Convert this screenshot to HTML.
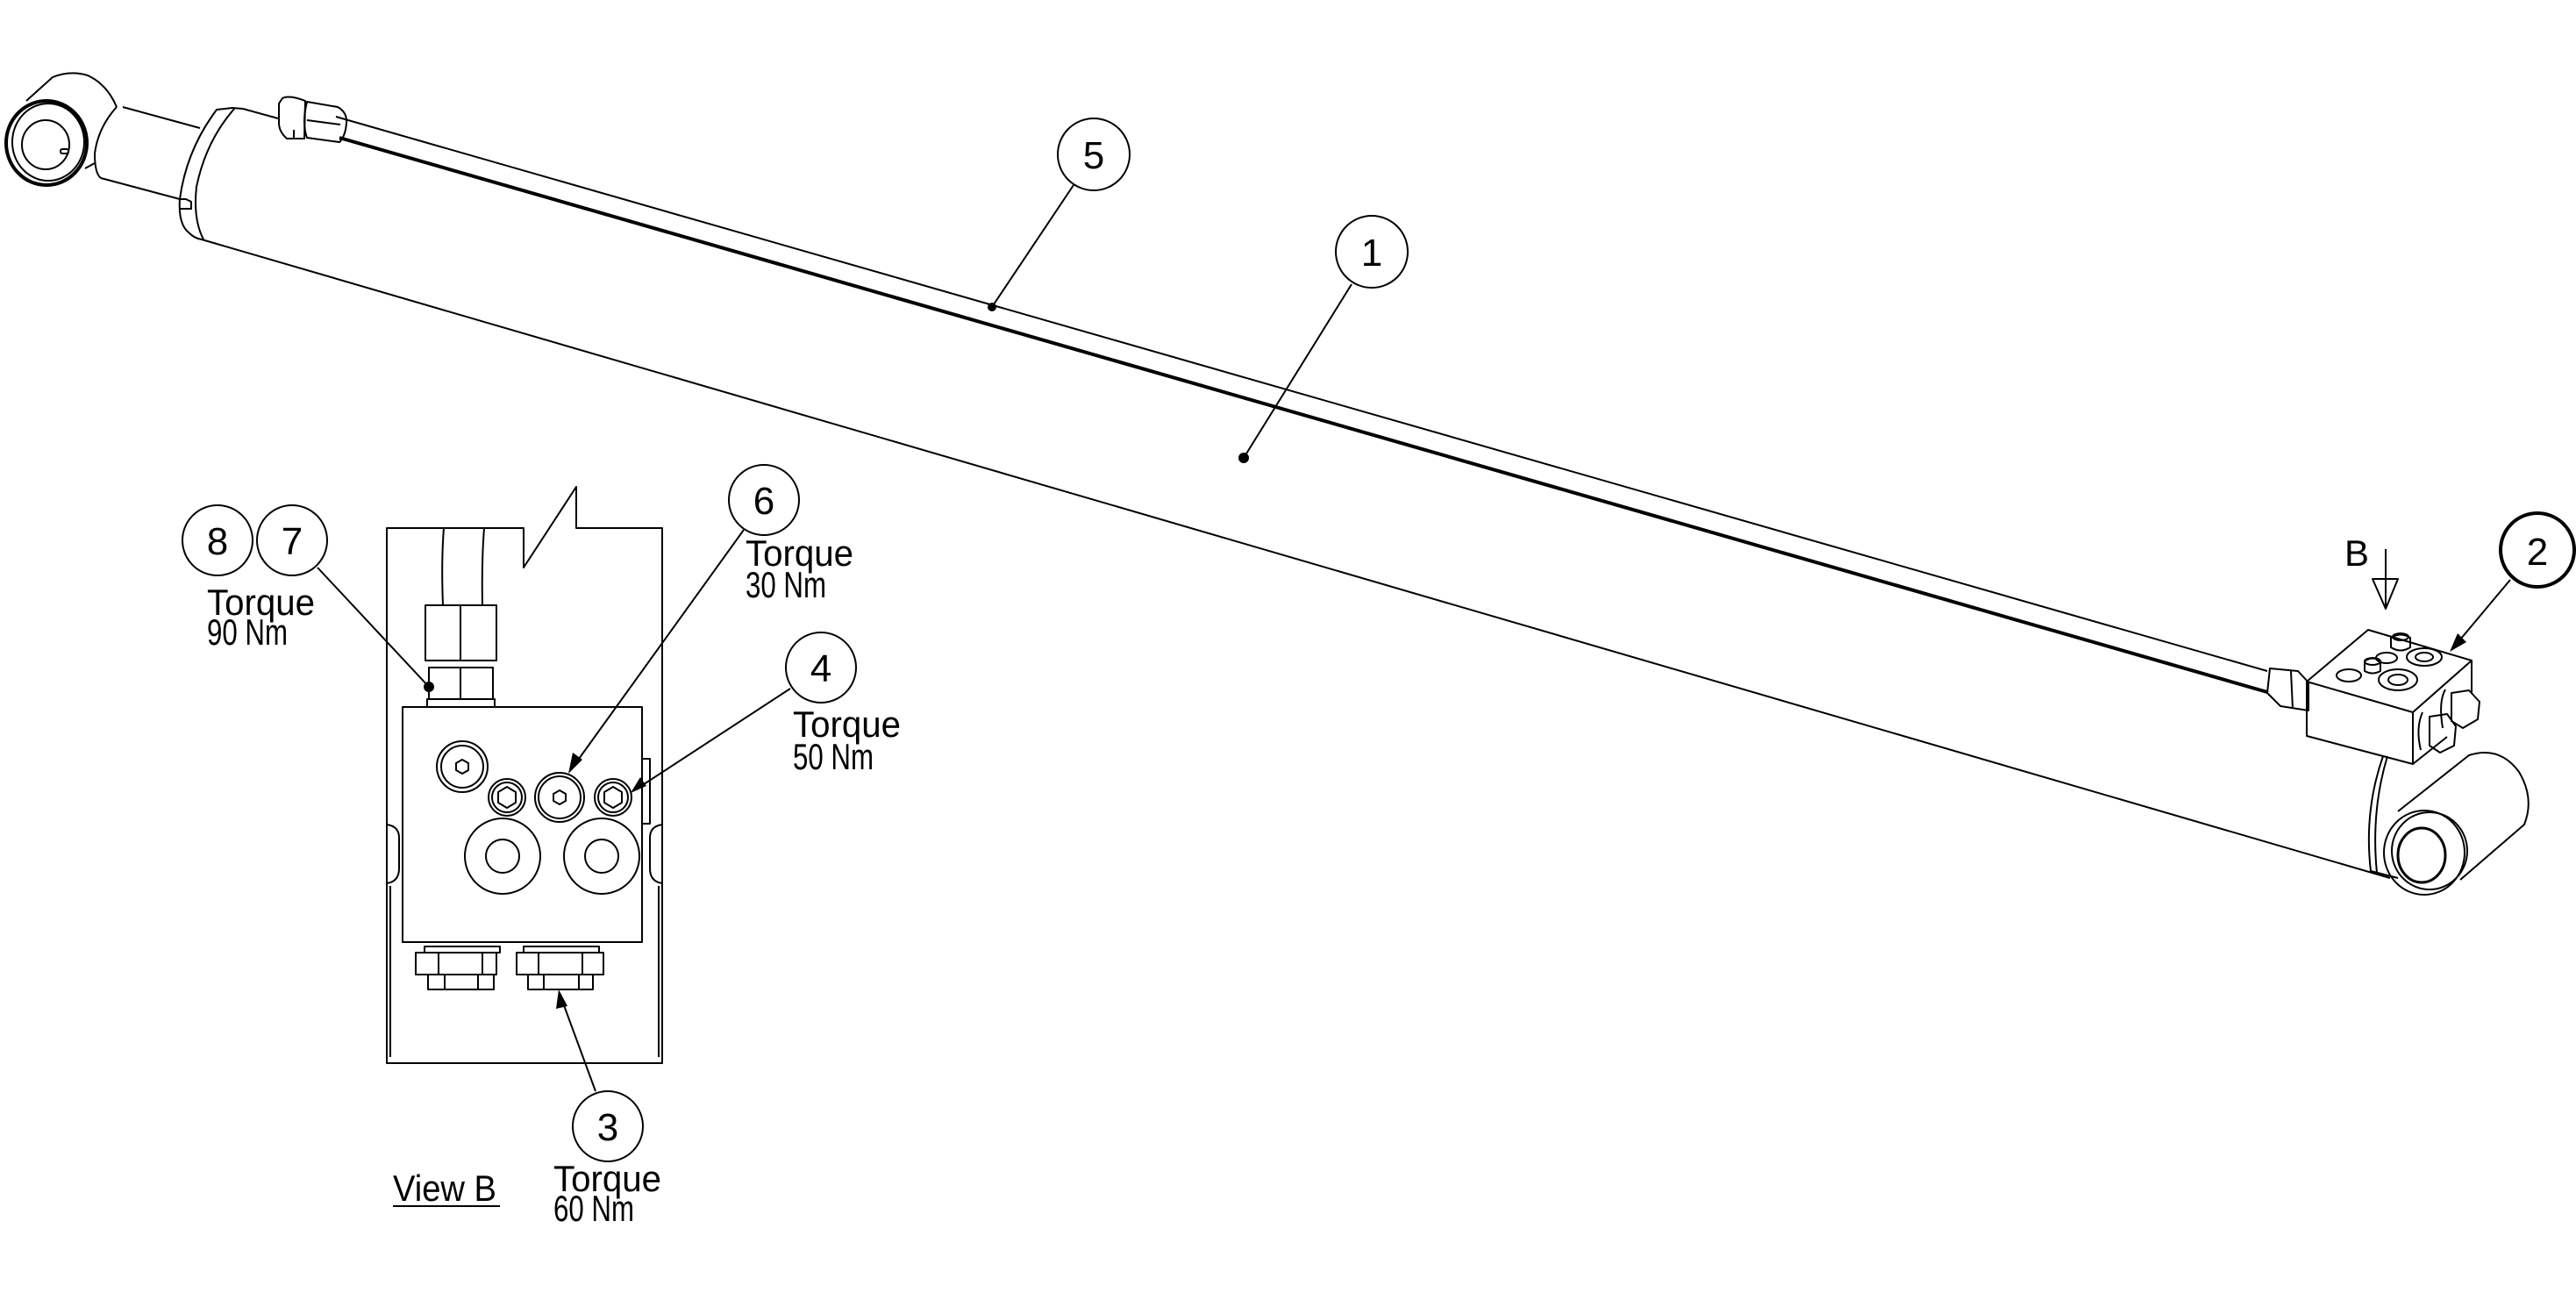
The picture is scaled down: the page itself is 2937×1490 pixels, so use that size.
<!DOCTYPE html>
<html><head><meta charset="utf-8"><style>
html,body{margin:0;padding:0;background:#fff}
svg{display:block}
text{font-family:"Liberation Sans",sans-serif;fill:#000}
</style></head><body>
<svg width="2937" height="1490" viewBox="0 0 2937 1490" xmlns="http://www.w3.org/2000/svg">
<g fill="none" stroke="#000" stroke-width="2" stroke-linejoin="round">
<!-- left eye -->
<path d="M30,115 L60,88 Q80,80 100,86 Q122,96 133,122"/>
<path d="M97,192 L108,186"/>
<path d="M133,122 Q112,145 108,175 Q108,198 115,203"/>
<ellipse cx="53" cy="163" rx="46" ry="48" stroke-width="4"/>
<ellipse cx="55" cy="162" rx="41" ry="44" stroke-width="2"/>
<ellipse cx="52" cy="165" rx="27" ry="28"/>
<rect x="69" y="170" width="9" height="5" rx="2"/>
<!-- rod -->
<line x1="140" y1="122" x2="228" y2="146"/>
<line x1="115" y1="203" x2="205" y2="227"/>
<!-- gland -->
<path d="M242,132 Q212,175 205,227 Q203,255 215,265 Q222,272 230,273"/>
<path d="M268,123 Q235,160 224,213 Q220,250 232,273"/>
<path d="M242,132 L247,125 L265,123 L277,124"/>
<path d="M205,227 L212,227 L218,230 L218,238 L205,238"/>
<line x1="277" y1="124" x2="317" y2="135"/>
<!-- barrel bottom -->
<line x1="230" y1="273" x2="2725" y2="1001"/>
<!-- tube -->
<line x1="383" y1="133" x2="2585" y2="765"/>
<line x1="387" y1="157" x2="2585" y2="789" stroke-width="4"/>
<!-- left fitting -->
<path d="M322,112 Q330,108 348,115 L347,158 L327,158 Q318,150 318,140 L318,118 Z"/>
<path d="M335,148 L335,158"/>
<path d="M350,116 L385,122 Q396,128 395,140 Q394,155 387,162 L350,157 Q344,140 350,116 Z"/>
<line x1="350" y1="137" x2="388" y2="142"/>
<!-- right tube fitting -->
<path d="M2588,762 L2620,765 L2632,778 L2632,810 L2600,805 L2585,790 Z"/>
<line x1="2612" y1="765" x2="2614" y2="808"/>
<!-- valve block -->
<path d="M2700,718 L2818,753 L2751,812 L2630,777 Z"/>
<path d="M2630,777 L2630,839 L2751,871 L2751,812"/>
<path d="M2818,753 L2818,790"/>
<path d="M2751,871 L2790,840"/>
<ellipse cx="2764" cy="749" rx="20" ry="10"/>
<ellipse cx="2764" cy="749" rx="10" ry="5"/>
<ellipse cx="2734" cy="775" rx="22" ry="12"/>
<ellipse cx="2734" cy="775" rx="11" ry="6"/>
<path d="M2726,727 Q2737,720 2748,727 L2748,738 Q2737,745 2726,738 Z"/>
<ellipse cx="2737" cy="726" rx="9" ry="4"/>
<ellipse cx="2721" cy="750" rx="12" ry="6"/>
<path d="M2696,754 Q2705,747 2714,754 L2714,765 Q2705,770 2696,765 Z"/>
<ellipse cx="2705" cy="754" rx="9" ry="4"/>
<ellipse cx="2678" cy="770" rx="14" ry="7"/>
<!-- bolts -->
<path d="M2795,790 L2815,787 L2827,800 L2825,820 L2808,830 L2795,822 Z"/>
<path d="M2788,786 Q2780,800 2785,830"/>
<path d="M2770,817 L2790,814 L2800,828 L2798,850 L2782,858 L2770,850 Z"/>
<path d="M2762,812 Q2754,830 2760,855"/>
<!-- right eye -->
<path d="M2717,862 Q2695,925 2703,993 L2734,1001"/>
<path d="M2722,862 Q2703,925 2710,995"/>
<ellipse cx="2764" cy="972" rx="46" ry="48"/>
<ellipse cx="2770" cy="970" rx="43" ry="44"/>
<ellipse cx="2761" cy="975" rx="27" ry="31" stroke-width="3"/>
<path d="M2734,925 L2815,861 Q2850,850 2872,880 Q2890,910 2878,940 L2805,1003"/>
<!-- arrow B -->
<line x1="2720" y1="626" x2="2720" y2="694"/>
<path d="M2705,660 L2734,660 L2720,694 Z"/>
<!-- balloon 2 -->
<circle cx="2893" cy="627" r="42" stroke-width="4"/>
<line x1="2862" y1="661" x2="2800" y2="735"/>
<!-- balloons 5 1 -->
<circle cx="1247" cy="176" r="41"/>
<line x1="1224" y1="211" x2="1131" y2="350"/>
<circle cx="1564" cy="287" r="41"/>
<line x1="1541" y1="324" x2="1418" y2="522"/>

<!-- VIEW B -->
<path d="M597,602 L441,602 L441,1212 L755,1212 L755,602 L657,602 L657,555 L597,647 Z"/>
<path d="M441,940 Q455,942 455,955 L455,990 Q455,1005 441,1007"/>
<path d="M755,940 Q741,942 741,955 L741,990 Q741,1005 755,1007"/>
<line x1="445" y1="1010" x2="445" y2="1205"/>
<line x1="751" y1="1010" x2="751" y2="1205"/>
<path d="M506,602 Q503,640 505,690"/>
<path d="M552,602 Q549,640 550,690"/>
<rect x="485" y="690" width="81" height="63"/>
<line x1="525" y1="690" x2="525" y2="753"/>
<rect x="489" y="761" width="73" height="36"/>
<line x1="525" y1="761" x2="525" y2="797"/>
<rect x="487" y="797" width="77" height="9"/>
<rect x="459" y="806" width="273" height="268"/>
<rect x="732" y="865" width="9" height="74"/>
<circle cx="527" cy="874" r="29"/><circle cx="527" cy="874" r="24"/>
<polygon points="527,866 534,870 534,878 527,882 520,878 520,870"/>
<circle cx="578" cy="909" r="21"/><circle cx="578" cy="909" r="17"/>
<polygon points="578,897 588,903 588,915 578,921 568,915 568,903"/>
<circle cx="638" cy="909" r="28"/><circle cx="638" cy="909" r="24"/>
<polygon points="638,901 645,905 645,913 638,917 631,913 631,905"/>
<circle cx="699" cy="909" r="21"/><circle cx="699" cy="909" r="17"/>
<polygon points="699,897 709,903 709,915 699,921 689,915 689,903"/>
<circle cx="573" cy="976" r="43"/><circle cx="573" cy="976" r="19"/>
<circle cx="686" cy="976" r="43"/><circle cx="686" cy="976" r="19"/>
<rect x="484" y="1079" width="86" height="7"/>
<rect x="474" y="1086" width="92" height="25"/>
<line x1="500" y1="1086" x2="500" y2="1111"/><line x1="550" y1="1086" x2="550" y2="1111"/>
<rect x="488" y="1111" width="75" height="17"/>
<line x1="507" y1="1111" x2="507" y2="1128"/><line x1="545" y1="1111" x2="545" y2="1128"/>
<rect x="597" y="1079" width="86" height="7"/>
<rect x="589" y="1086" width="99" height="25"/>
<line x1="614" y1="1086" x2="614" y2="1111"/><line x1="664" y1="1086" x2="664" y2="1111"/>
<rect x="602" y="1111" width="74" height="17"/>
<line x1="620" y1="1111" x2="620" y2="1128"/><line x1="660" y1="1111" x2="660" y2="1128"/>
<circle cx="248" cy="616" r="40"/>
<circle cx="333" cy="616" r="40"/>
<circle cx="871" cy="570" r="40"/>
<circle cx="936" cy="761" r="40"/>
<circle cx="693" cy="1284" r="40"/>
<line x1="362" y1="647" x2="489" y2="783"/>
<line x1="848" y1="604" x2="655" y2="872"/>
<line x1="901" y1="785" x2="728" y2="898"/>
<line x1="679" y1="1244" x2="640" y2="1138"/>
<line x1="448" y1="1375" x2="570" y2="1375"/>
</g>
<g fill="#000" stroke="none">
<circle cx="1131" cy="350" r="5"/>
<circle cx="1418" cy="522" r="6"/>
<circle cx="489" cy="783" r="6"/>
<polygon points="2793,743 2802,722 2812,732"/>
<polygon points="648,882 653,858 664,866"/>
<polygon points="719,904 730,886 737,896"/>
<polygon points="637,1128 634,1150 647,1147"/>
</g>
<g font-size="44" text-anchor="middle">
<text x="1247" y="192">5</text>
<text x="1564" y="303">1</text>
<text x="2893" y="644">2</text>
<text x="248" y="632">8</text>
<text x="333" y="632">7</text>
<text x="871" y="586">6</text>
<text x="936" y="777">4</text>
<text x="693" y="1300">3</text>
</g>
<g font-size="42">
<text x="2673" y="645">B</text>
<text x="236" y="701" textLength="123" lengthAdjust="spacingAndGlyphs">Torque</text>
<text x="236" y="735" textLength="92" lengthAdjust="spacingAndGlyphs">90 Nm</text>
<text x="850" y="645" textLength="123" lengthAdjust="spacingAndGlyphs">Torque</text>
<text x="850" y="681" textLength="92" lengthAdjust="spacingAndGlyphs">30 Nm</text>
<text x="904" y="840" textLength="123" lengthAdjust="spacingAndGlyphs">Torque</text>
<text x="904" y="877" textLength="92" lengthAdjust="spacingAndGlyphs">50 Nm</text>
<text x="631" y="1358" textLength="123" lengthAdjust="spacingAndGlyphs">Torque</text>
<text x="631" y="1392" textLength="92" lengthAdjust="spacingAndGlyphs">60 Nm</text>
<text x="448" y="1369" textLength="118" lengthAdjust="spacingAndGlyphs">View B</text>
</g>
</svg>
</body></html>
